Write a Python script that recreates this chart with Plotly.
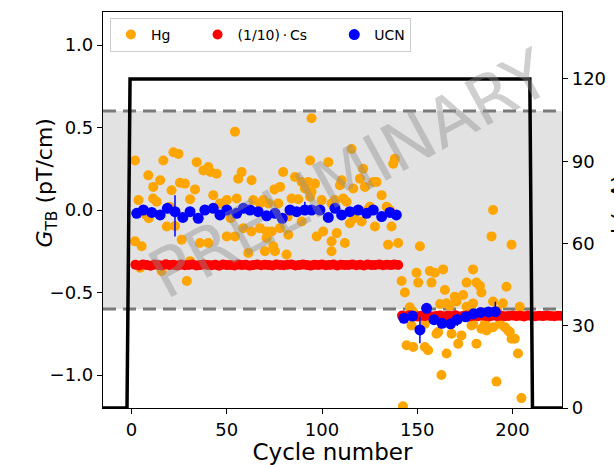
import plotly.graph_objects as go

# ---------------- data ----------------
hg_cycles = [1.8, 16.7, 22, 24.6, 8.8, 15, 11.4, 3.6, 11.3, 13.2, 21, 25.4, 28, 33.3, 30.7, 34.2,
             37.7, 40.3, 41.5, 44.7, 42.9, 46.4, 18.5, 22.8, 7.6, 1.8, 5.3, 26.3, 35.9, 40.3, 15.8,
             29, 50, 4.5, 30.7, 54.3, 94.5, 93.7, 79.6, 85.8, 89.3, 92.8, 96.3, 57.8, 56, 63, 50,
             55.2, 63.9, 69.2, 71.8, 67.4, 75, 78, 84, 87.5, 93.7, 91, 94.5, 77, 99.8, 105, 89.3,
             54.3, 58.7, 63, 67.4, 70.9, 74.4, 77.9, 82.3, 61.3, 70, 81.4, 75.3, 71, 73.6, 97.2,
             100.6, 105, 103.3, 115.5, 138.2, 137.4, 121.6, 110.3, 109.4, 119.9, 122.5, 126.9,
             128.6, 116.4, 131.3, 111.1, 106.8, 112.9, 125.1, 133.9, 135.6, 114.6, 120.8, 127.8,
             136.5, 107.7, 112, 105, 134.7, 140, 9, 20, 52, 82, 117, 124,
             141.8, 143.5, 151.4, 189.8, 189, 199.5, 149.6, 150.5, 156.6, 159.2, 163.6, 157.5,
             164.5, 179.3, 175.9, 181.1, 183.7, 182.9, 169.7, 174.1, 165.4, 170.6, 196.8, 189.8,
             195, 146.1, 160.1, 168, 173.2, 144.4, 147.9, 154, 155.7, 165.4, 171.5, 181.1, 183.7,
             186.4, 189.8, 179.3, 196, 197.7, 199.5, 201.2, 202.9, 162.7, 191.6, 204.7, 142.5,
             162, 167, 175.9, 179.3, 203.8, 147, 154, 161, 178.5, 185.5, 193.3, 198.6,
             148, 158, 176, 192, 205]
hg_values = [0.30, 0.30, 0.35, 0.34, 0.21, 0.18, 0.14, 0.06, 0.07, 0.05, 0.12, 0.165, 0.16, 0.125,
             0.065, 0.29, 0.24, 0.26, 0.23, 0.22, 0.09, 0.04, -0.10, -0.097, -0.03, -0.19, -0.22,
             -0.18, -0.20, -0.20, -0.37, -0.43, -0.16, -0.35, -0.31, 0.475, 0.556, 0.30, 0.23,
             0.20, 0.17, 0.17, 0.16, 0.23, 0.19, 0.18, 0.06, 0.07, 0.06, 0.06, 0.04, 0.04, 0.125,
             0.14, 0.07, 0.065, 0.08, 0.13, 0.11, 0.04, 0.06, 0.04, -0.07, -0.16, -0.11, -0.13,
             -0.11, -0.17, -0.22, -0.11, -0.15, -0.26, -0.25, -0.27, -0.25, -0.13, -0.13, -0.16,
             -0.13, -0.19, 0.29, 0.37, 0.31, 0.28, 0.25, 0.18, 0.15, 0.19, 0.14, 0.17, 0.17, 0.13,
             0.09, 0.07, 0.06, 0.05, 0.02, 0.02, 0.0, -0.08, -0.07, -0.10, -0.10, -0.14, -0.20,
             -0.25, -0.21, -0.20, -0.05, 0.02, -0.05, -0.04, -0.05, 0.0,
             -0.43, -0.50, -0.22, 0.0, -0.16, -0.21, -0.38, -0.44, -0.37, -0.38, -0.36, -0.44,
             -0.485, -0.36, -0.44, -0.44, -0.50, -0.46, -0.525, -0.515, -0.565, -0.555, -0.465,
             -0.555, -0.565, -0.59, -0.75, -0.75, -0.76, -0.82, -0.83, -0.83, -0.85, -0.87,
             -0.81, -0.81, -0.72, -0.73, -0.71, -0.69, -0.71, -0.73, -0.78, -0.78, -0.87, -1.0,
             -1.04, -1.14, -1.19, -0.57, -0.58, -0.586, -0.566, -0.586, -0.70, -0.69, -0.74,
             -0.70, -0.69, -0.69, -0.74, -0.62, -0.66, -0.63, -0.61, -0.64]

cs_cycles = [2, 4, 6, 8, 10, 12, 14, 16, 18, 20, 22, 24, 26, 28, 30, 32, 34, 36, 38, 40,
             42, 44, 46, 48, 50, 52, 54, 56, 58, 60, 62, 64, 66, 68, 70, 72, 74, 76, 78, 80,
             82, 84, 86, 88, 90, 92, 94, 96, 98, 100, 102, 104, 106, 108, 110, 112, 114, 116,
             118, 120, 122, 124, 126, 128, 130, 132, 134, 136, 138, 140,
             142, 144, 146, 148, 150, 152, 154, 156, 158, 160, 162, 164, 166, 168, 170, 172,
             174, 176, 178, 180, 182, 184, 186, 188, 190, 192, 194, 196, 198, 200, 202, 204,
             206, 208, 210, 212, 214, 216, 218, 220, 222, 224, 226]
cs_values = [-0.332, -0.336, -0.330, -0.334, -0.338, -0.331, -0.333, -0.336, -0.329, -0.334,
             -0.332, -0.337, -0.331, -0.335, -0.333, -0.330, -0.336, -0.334, -0.331, -0.333,
             -0.335, -0.332, -0.338, -0.330, -0.334, -0.333, -0.336, -0.331, -0.334, -0.332,
             -0.337, -0.333, -0.330, -0.335, -0.332, -0.334, -0.336, -0.331, -0.333, -0.335,
             -0.332, -0.330, -0.336, -0.334, -0.331, -0.333, -0.337, -0.332, -0.334, -0.330,
             -0.335, -0.333, -0.331, -0.336, -0.332, -0.334, -0.333, -0.330, -0.335, -0.332,
             -0.336, -0.331, -0.334, -0.333, -0.330, -0.335, -0.332, -0.334, -0.331, -0.333,
             -0.640, -0.644, -0.638, -0.642, -0.646, -0.641, -0.643, -0.639, -0.645, -0.642,
             -0.640, -0.644, -0.641, -0.643, -0.638, -0.645, -0.642, -0.640, -0.644, -0.641,
             -0.643, -0.639, -0.642, -0.645, -0.640, -0.643, -0.641, -0.644, -0.642, -0.639,
             -0.643, -0.641, -0.645, -0.640, -0.642, -0.644, -0.641, -0.643, -0.640, -0.642,
             -0.644, -0.641, -0.642]

ucn_cycles = [2.7, 6.2, 10.6, 15, 18.8, 22.8, 26.9, 30.7, 35, 38.5, 42.9, 46.4, 50, 55.2, 58.7,
              62.2, 66.5, 70.9, 75.3, 79.1, 83.2, 86.7, 91, 94.5, 98.9, 103.3, 106.8, 110.3,
              114.6, 119, 123.4, 126.9, 131.3, 135.6, 139,
              143, 147.5, 151.4, 154.9, 158.8, 163, 167.5, 171, 175.5, 179.5, 183.3, 187.4, 191]
ucn_values = [-0.02, 0.0, -0.015, -0.03, 0.01, -0.01, -0.045, -0.01, -0.05, 0.0, 0.01, -0.03,
              0.0, -0.02, 0.01, 0.0, -0.01, -0.035, -0.02, -0.05, 0.0, -0.01, 0.0, 0.0, 0.0,
              -0.045, 0.01, -0.03, -0.01, 0.0, -0.02, 0.0, -0.04, -0.015, -0.03,
              -0.656, -0.643, -0.727, -0.596, -0.665, -0.687, -0.69, -0.663, -0.647, -0.63,
              -0.621, -0.618, -0.616]
ucn_err_up = [0.02, 0.02, 0.02, 0.02, 0.02, 0.10, 0.02, 0.02, 0.02, 0.02, 0.02, 0.02, 0.02,
              0.02, 0.02, 0.02, 0.02, 0.02, 0.02, 0.02, 0.02, 0.02, 0.05, 0.02, 0.02, 0.02,
              0.02, 0.02, 0.02, 0.02, 0.02, 0.02, 0.02, 0.02, 0.02,
              0.02, 0.02, 0.08, 0.02, 0.02, 0.02, 0.02, 0.02, 0.02, 0.02, 0.02, 0.02, 0.06]
ucn_err_down = [0.02, 0.02, 0.02, 0.02, 0.02, 0.15, 0.02, 0.02, 0.02, 0.02, 0.02, 0.02, 0.02,
                0.02, 0.02, 0.02, 0.02, 0.02, 0.02, 0.02, 0.02, 0.02, 0.02, 0.02, 0.02, 0.02,
                0.02, 0.02, 0.02, 0.02, 0.02, 0.02, 0.02, 0.02, 0.02,
                0.02, 0.02, 0.08, 0.02, 0.02, 0.02, 0.02, 0.04, 0.02, 0.02, 0.02, 0.02, 0.02]

current_cycles = [-15, -2.4, -0.8, 209.1, 210.5, 226]
current_values = [0, 0, 120, 120, 0, 0]

band_limits = [-0.6, 0.6]

x_ticks = [0, 50, 100, 150, 200]
y_ticks = [-1.0, -0.5, 0.0, 0.5, 1.0]
y2_ticks = [0, 30, 60, 90, 120]

FONT = "DejaVu Sans"
PAD = "\u00a0" * 5

fig = go.Figure()

fig.add_trace(go.Scatter(x=hg_cycles, y=hg_values, mode="markers", name="Hg" + PAD,
                         marker=dict(color="#FFA500", size=10, line=dict(width=0))))
fig.add_trace(go.Scatter(x=cs_cycles, y=cs_values, mode="markers",
                         name="(1/10)\u2009·\u2009Cs" + PAD,
                         marker=dict(color="#FF0000", size=10, line=dict(width=0))))
fig.add_trace(go.Scatter(x=ucn_cycles, y=ucn_values, mode="markers", name="UCN",
                         marker=dict(color="#0000FF", size=11, line=dict(width=0)),
                         error_y=dict(type="data", symmetric=False, array=ucn_err_up,
                                      arrayminus=ucn_err_down, color="#0000FF",
                                      thickness=1.5, width=0)))
fig.add_trace(go.Scatter(x=current_cycles, y=current_values, mode="lines", yaxis="y2",
                         line=dict(color="black", width=3.5), showlegend=False))

# shaded band and dashed limits
fig.add_shape(type="rect", xref="paper", yref="y", x0=0, x1=1,
              y0=band_limits[0], y1=band_limits[1], fillcolor="#e2e2e2",
              line=dict(width=0), layer="below")
for lim in band_limits:
    fig.add_shape(type="line", xref="paper", yref="y", x0=0, x1=1, y0=lim, y1=lim,
                  line=dict(color="#7a7a7a", width=3, dash="13px,7px"), layer="below")

fig.update_layout(
    width=614, height=465,
    margin=dict(l=103, r=52, t=12, b=57, autoexpand=False),
    paper_bgcolor="white", plot_bgcolor="white",
    font=dict(family=FONT, color="black", size=18),
    showlegend=True,
    legend=dict(orientation="h", x=0.015, y=0.985, xanchor="left", yanchor="top",
                font=dict(size=14, family=FONT), bgcolor="rgba(255,255,255,0.85)",
                bordercolor="#cccccc", borderwidth=1),
    xaxis=dict(range=[-15, 226], tickvals=x_ticks, ticks="outside", ticklen=5,
               tickcolor="black", showline=True, linecolor="black", linewidth=1.2,
               mirror=True, showgrid=False, zeroline=False, automargin=False,
               tickfont=dict(size=18),
               title=dict(text="Cycle number", font=dict(size=23), standoff=6)),
    yaxis=dict(range=[-1.2, 1.2], tickvals=y_ticks, tickformat=".1f", ticks="outside",
               ticklen=5, tickcolor="black", showline=True, linecolor="black",
               linewidth=1.2, mirror=True, showgrid=False, zeroline=False,
               automargin=False, tickfont=dict(size=18)),
    yaxis2=dict(range=[0, 144.4], tickvals=y2_ticks, overlaying="y", side="right",
                ticks="outside", ticklen=5, tickcolor="black", showline=True,
                linecolor="black", linewidth=1.2, showgrid=False, zeroline=False,
                automargin=False, tickfont=dict(size=18)),
)

fig.add_annotation(text="<i>G</i><sub>TB</sub> (pT/cm)", xref="paper", yref="paper",
                   x=-0.159, y=0.568, textangle=-90, showarrow=False,
                   font=dict(size=22, family=FONT))
fig.add_annotation(text="I (μA)", xref="paper", yref="paper",
                   x=1.0937, y=0.513, xanchor="left", yanchor="middle",
                   textangle=-90, showarrow=False,
                   font=dict(size=22, family=FONT))
fig.add_annotation(text="PRELIMINARY", xref="paper", yref="paper",
                   x=0.538, y=0.590, textangle=-28.5, showarrow=False,
                   font=dict(size=67, family=FONT, color="rgba(140,140,140,0.42)"))

fig.write_html("out.html")
